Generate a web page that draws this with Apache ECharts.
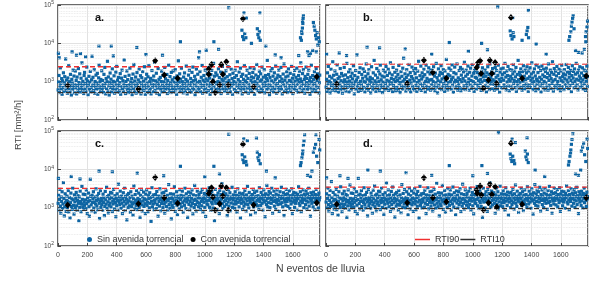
<!DOCTYPE html>
<html>
<head>
<meta charset="utf-8">
<script src="https://cdn.jsdelivr.net/npm/echarts@6/dist/echarts.min.js"></script>
<style>
html,body{margin:0;padding:0;background:#fff;}
#chart{width:589px;height:281px;}
</style>
</head>
<body>
<div id="chart"></div>
<script>
// RTI por evento de lluvia (4 paneles a-d)

// eje x: numero de evento (se muestrea uno de cada PASO eventos)
var PASO = 3;
var X_MAX = 1785;
var PANELES = ['a.', 'b.', 'c.', 'd.'];

// umbrales por panel
var RTI90 = [2450, 2870, 3170, 3450];
var RTI10 = [520, 670, 850, 940];

// eventos sin avenida torrencial (bulk), evento = 1 + k*PASO
var SIN_A = [
610,980,1450,520,760,2300,880,640,1200,470,1050,700,1700,560,930,1350,820,3900,590,1100,
720,500,1250,860,2600,660,1000,540,1550,780,450,1150,920,630,2000,740,1400,510,850,1900,
690,1080,480,1320,790,580,2200,950,670,1600,530,870,1230,710,3100,600,1020,820,490,1450,
1750,650,900,560,1180,2400,740,1040,460,830,1380,620,960,1850,540,700,1120,4600,780,1300,
590,860,2050,500,1010,730,1480,640,920,1650,470,810,1260,2700,680,990,550,1140,760,1920,
620,1070,830,520,1550,720,2350,890,480,1210,660,1000,3400,570,1330,780,450,940,1680,700,
1160,540,880,2150,640,1020,760,1420,500,970,610,1780,850,2500,690,1090,530,1290,800,580,
940,1620,470,740,1240,2000,660,1060,560,870,3700,720,1370,490,1010,790,1900,610,1130,680,
520,1470,830,2250,600,980,740,1200,460,910,1580,670,2800,560,1040,820,1320,500,750,1720,
880,630,1110,540,2100,700,960,1430,480,860,1270,610,1830,750,1030,590,2450,810,470,1180,
690,1560,920,520,1340,760,2600,580,1000,650,1220,480,870,1950,720,1090,550,1400,840,3200,
600,1050,770,1660,500,940,680,2200,860,1150,460,730,1290,620,1010,1880,540,820,1460,700,
990,570,2350,750,1190,640,880,1540,490,1070,710,2700,820,600,1360,930,520,1750,780,1120,
660,1900,540,970,1260,730,2050,610,890,470,1410,800,1080,3500,680,950,1600,560,1170,740,
2250,620,1000,840,510,1320,700,1690,910,580,1140,2550,760,480,1030,650,1480,870,1990,590,
800,1210,530,960,1750,690,2400,1060,620,860,1380,460,1120,770,2100,570,940,1560,710,4200,
640,1020,1840,550,880,1300,720,2650,500,1090,790,1450,610,980,2000,680,1180,530,850,1620,
1060,590,2300,760,1240,470,900,1530,660,1970,820,560,1110,3000,730,1390,520,950,1700,640,
870,1480,540,1010,2150,700,1280,600,930,1810,490,780,1150,2500,650,1040,840,1600,570,1230,
720,1920,610,970,1350,500,2450,810,1080,680,1510,550,900,2100,740,1200,470,1660,860,1010,
630,1290,2000,580,920,1440,760,3300,520,1130,690,1780,830,1000,2250,600,1370,720,480,1560,
890,1150,640,2600,770,1050,540,1420,950,1990,680,1210,500,860,1640,730,2300,610,1080,1330,
560,940,1730,700,1260,2150,470,1000,820,1490,650,2800,910,1190,580,1350,760,1870,530,1030,
1600,670,1110,2400,590,880,1310,740,2050,510,970,1450,800,1200,620,3600,1060,690,1540,850,
460,1280,780,1920,600,1050,2200,720,1390,540,930,1700,650,1140,2550,810,500,1250,890,1480,
700,2000,580,1020,1360,760,2350,640,1170,480,960,1580,830,2900,560,1090,740,1330,610,1820,
920,520,1400,2150,680,1080,790,1650,570,1000,2500,720,1230,490,880,1510,640,1960,1040,760,
1300,600,2250,850,1120,530,1450,950,1880,690,1180,3100,770,1010,580,1620,860,2050,640,1140,
500,1370,780,2400,940,1210,620,1550,730,2000,870,1060,470,1290,680,2700,990,560,1440,820,
1150,640,1820,900,1340,580,2200,760,1080,1600,700,1250,510,940,1480
];
var SIN_B = [
720,1150,560,1700,880,2500,640,1030,1380,510,940,2100,780,1250,600,3300,860,1470,690,1090,
1900,580,990,760,1560,2750,670,1200,530,910,1330,820,2200,620,1060,1640,740,500,1420,960,
650,2350,1120,790,1500,570,980,3000,710,1270,880,1800,540,1040,2050,760,1360,610,920,1660,
1180,700,2600,850,480,1440,990,1950,630,1110,5000,760,1300,560,900,1740,680,2300,1020,590,
830,1540,640,1230,2150,720,1000,1850,540,950,1380,2900,670,1160,800,1610,600,2050,870,1080,
1300,510,960,2450,740,1190,620,1700,880,3600,690,1050,1480,560,930,2200,780,1260,640,1900,
1010,580,1580,2700,820,1120,700,1400,520,970,2000,760,1330,610,1800,900,2500,660,1090,1450,
740,2100,590,1020,1680,850,3100,630,1210,930,1500,550,2350,790,1140,690,1760,1000,580,1310,
2000,710,1070,1550,600,2650,880,1240,520,960,1830,770,1380,640,2250,1030,4100,730,1150,1600,
860,570,1280,2050,690,1000,1490,790,2800,620,1100,1720,540,920,1360,2400,750,1190,660,1950,
1040,610,1620,2200,800,1260,560,950,1880,720,3400,1080,640,1430,870,2550,590,1170,1700,780,
1350,680,2100,910,1520,540,1020,2700,760,1220,630,1810,980,2300,700,1110,1590,600,2000,840,
1140,1900,650,1010,2450,770,1390,580,1680,930,3000,720,1270,510,1060,2150,820,1470,670,1760,
990,2600,620,1180,1620,740,2050,890,1330,560,1900,1050,690,3800,800,1240,610,1550,940,2250,
710,1420,1000,2000,640,1150,2750,820,1300,530,1720,960,2400,680,1090,1600,760,2900,1020,600,
1260,860,1950,700,1130,2350,580,1480,990,2100,650,1210,1800,780,3200,1040,620,1390,2000,880,
730,1570,2550,950,1180,600,1760,830,2250,1070,670,1400,2800,760,1000,1660,560,1950,900,1300,
2100,640,1230,1720,820,2650,1060,700,1490,3500,900,1150,590,1850,980,2300,740,1340,1600,680,
1080,2000,780,1380,540,1700,960,2450,720,1190,1550,620,2900,870,1270,1010,1820,660,2200,1120,
850,1640,600,1040,2350,750,1300,1950,920,640,1460,2700,800,1160,530,1780,1010,2150,700,1240,
1550,690,2250,1090,830,1700,3000,740,1320,610,1900,980,1450,2500,770,1150,580,2050,1030,1380,
760,2000,1200,640,1600,2800,890,1070,1880,700,1330,2350,560,1010,1540,820,3600,1120,680,1750,
940,1450,2150,720,1250,600,1820,1030,2600,790,1390,650,2000,1130,870,1680,2450,740,1220,560,
1900,830,1340,2300,700,1090,1590,3100,910,1240,620,1770,1000,2150,760,1410,580,2700,1170,850,
1050,1720,640,2400,980,1300,770,1950,540,1160,2550,880,1500,690,2100,1020,1350,610,1840,920,
2250,730,1280,1650,600,2900,1080,810,1450,2000,670,1200,1750,900,3300,1040,570,1560,2200,780,
1130,1880,700,1410,2500,860,1010,650,1640,2100,790,1260,580,1900,1060,2700,740,1350,980,1600,
620,2050,1190,850,1500,2800,720,1100,1780,930,2350,660,1300,1620,800,1970,1070,550,1440,2600,
900,1240,1850,690,2150,1020,1570,760,3000,1160,840,1700,610,2000,1090,1400,2450,720,1230,960,
1680,780,2300,1110,640,1450,2000,880,1290,590,1900,1030,2550,750,1360
];
var SIN_C = [
1300,2100,860,1650,3000,1100,720,1900,1450,2600,950,1250,4500,1750,610,1050,2300,1380,800,1550,
2000,1000,1480,2800,770,1200,1850,540,1350,2400,1080,1700,900,3200,1600,1150,680,2150,1420,980,
1750,2500,1120,850,1550,2050,1300,460,1900,1020,2700,1450,780,1250,3600,1650,1050,2250,900,1380,
1150,2200,1600,940,2900,1280,700,1800,1440,2400,1060,600,1520,5500,1950,1180,830,2100,1360,1700,
2600,980,1400,1900,750,1250,3100,1550,1100,2000,880,1650,2350,1300,520,1450,2800,1020,1750,1200,
1500,850,2250,1350,1800,620,1080,2650,1600,1240,3400,960,1950,1420,730,2100,1150,1700,1320,2500,
1050,1850,2400,790,1480,1250,3000,1650,920,2050,1360,580,1750,1130,2300,1550,860,4100,1400,1900,
1200,2700,1580,960,2000,1300,700,1720,2450,1100,1450,3200,840,1950,1250,1650,480,2150,1380,1000,
2350,1520,1120,1850,760,2600,1400,1060,2000,1260,640,1700,3700,1350,930,2200,1580,1150,2800,1450,
890,1750,1300,2400,1020,1620,560,2100,1420,3000,1180,820,1900,1500,2550,1080,1700,1270,700,2250,
1600,2900,1150,1380,780,2050,1720,990,2450,1300,1850,440,1480,3300,1050,1950,1250,2150,880,1560,
1340,2200,1680,940,2650,1200,1780,600,2000,1450,1100,3100,1620,830,1900,1280,2400,1500,1000,1800,
2500,1250,720,1950,1400,2800,1080,1650,2100,860,1500,4000,1200,1750,960,2300,1380,510,1850,1150,
1700,1020,2250,1480,3500,1300,800,1900,1560,2600,1160,660,2000,1420,1780,920,2950,1250,1620,2100,
1050,1880,2700,1350,750,2000,1500,1150,3200,1680,940,2300,1400,1820,560,1600,2550,1220,1950,870,
1450,2400,1100,1750,2900,1280,690,2150,1550,1000,3800,1650,1200,2050,820,1500,2700,1350,1850,1060,
2200,1300,1780,900,2500,1450,1120,3000,1650,760,1900,1380,2350,1020,1700,590,2050,1500,1250,2800,
1180,1950,1550,3300,1020,1720,2250,850,1400,2650,1250,1850,980,2100,1600,460,1480,3000,1300,1750,
2050,880,1620,2400,1350,1900,700,2800,1500,1150,2200,1700,4200,1280,940,1850,2550,1450,1080,2000,
1550,2300,1200,1750,620,2000,1400,2950,1100,1650,2450,830,1900,1320,1750,3400,1020,1580,2150,1250,
1800,960,2600,1480,1250,2100,760,1700,3100,1380,1950,1050,2400,1560,540,1850,1300,2250,1650,900,
2350,1400,1100,1950,2800,1250,1700,820,2150,1500,3600,1200,1850,980,2500,1620,1380,650,2000,1750,
1300,2200,1600,3000,1050,1800,2450,1400,740,1950,1250,2700,1550,1120,2050,1680,900,3300,1450,1900,
1150,2500,1750,1300,2100,860,1600,2900,1400,1950,580,2300,1500,1200,3800,1720,1050,2150,1350,2650,
1850,1000,2400,1600,1300,3200,1750,720,2050,1450,2700,1100,1900,1550,900,2250,1380,2900,1650,1200,
2100,1500,800,1950,2600,1250,1700,3400,1350,2000,1050,1800,2450,620,1600,1400,2200,1150,3000,1750,
1450,2300,1080,1900,1650,2750,950,2050,1500,1250,3100,1800,700,2150,1400,2500,1600,1020,1950,1300,
2400,1550,1850,860,2200,1700,3500,1300,1950,1150,2600,1480,780,2050,1750,1350,2900,1600,1000,2250,
1650,2000,1200,2750,1500,920,2300,1850,1400,3200,1100,1950,1700,600,2450,1550,1300,2100,1800,1050,
2550,1400,1900,880,2200,1650,3000,1250,1750,2050,1450,980,2400,1600,1850
];
var SIN_D = [
1400,2300,980,1750,3200,1200,820,2050,1550,2800,1080,1350,4800,1850,700,1150,2500,1500,920,1650,
2150,1100,1600,3000,880,1300,2000,640,1450,2600,1180,1800,1000,3500,1700,1250,780,2300,1520,1060,
1850,2700,1220,960,1650,2200,1400,560,2050,1120,2900,1550,870,1350,3900,1750,1150,2400,1000,1480,
1250,2350,1700,1040,3100,1380,800,1950,1550,2600,1160,690,1620,5800,2100,1280,930,2250,1460,1800,
2800,1080,1500,2050,850,1350,3300,1650,1200,2150,980,1750,2500,1400,610,1550,3000,1120,1850,1300,
1600,950,2400,1450,1950,720,1180,2850,1700,1340,3700,1060,2100,1520,830,2250,1250,1800,1420,2700,
1150,2000,2600,890,1580,1350,3200,1750,1020,2200,1460,670,1850,1230,2450,1650,960,4400,1500,2050,
1300,2900,1680,1060,2150,1400,800,1820,2650,1200,1550,3450,940,2100,1350,1750,570,2300,1480,1100,
2500,1620,1220,2000,860,2800,1500,1160,2150,1360,740,1800,4000,1450,1030,2350,1680,1250,3000,1550,
990,1850,1400,2600,1120,1720,660,2250,1520,3200,1280,920,2050,1600,2750,1180,1800,1370,800,2400,
1700,3100,1250,1480,880,2200,1820,1090,2650,1400,2000,540,1580,3600,1150,2100,1350,2300,980,1660,
1440,2350,1780,1040,2850,1300,1880,700,2150,1550,1200,3300,1720,930,2050,1380,2600,1600,1100,1900,
2700,1350,820,2100,1500,3000,1180,1750,2250,960,1600,4300,1300,1850,1060,2450,1480,610,2000,1250,
1800,1120,2400,1580,3800,1400,900,2050,1660,2800,1260,760,2150,1520,1880,1020,3150,1350,1720,2250,
1150,2000,2900,1450,850,2150,1600,1250,3450,1780,1040,2450,1500,1920,660,1700,2750,1320,2100,970,
1550,2600,1200,1850,3100,1380,790,2300,1650,1100,4100,1750,1300,2200,920,1600,2900,1450,1950,1160,
2350,1400,1880,1000,2700,1550,1220,3200,1750,860,2050,1480,2500,1120,1800,690,2200,1600,1350,3000,
1280,2100,1650,3550,1120,1820,2400,950,1500,2850,1350,1950,1080,2250,1700,560,1580,3200,1400,1850,
2200,980,1720,2600,1450,2000,800,3000,1600,1250,2350,1800,4500,1380,1040,1950,2750,1550,1180,2150,
1650,2450,1300,1850,720,2150,1500,3150,1200,1750,2600,930,2000,1420,1850,3650,1120,1680,2300,1350,
1900,1060,2800,1580,1350,2250,860,1800,3300,1480,2100,1150,2550,1660,640,1950,1400,2400,1750,1000,
2500,1500,1200,2100,3000,1350,1800,920,2300,1600,3900,1300,1950,1080,2700,1720,1480,750,2150,1850,
1400,2350,1700,3200,1150,1900,2600,1500,840,2100,1350,2900,1650,1220,2200,1780,1000,3500,1550,2000,
1250,2700,1850,1400,2250,960,1700,3100,1500,2050,680,2450,1600,1300,4000,1820,1150,2300,1450,2850,
1950,1100,2600,1700,1400,3400,1850,820,2200,1550,2900,1200,2000,1650,1000,2400,1480,3100,1750,1300,
2250,1600,900,2050,2800,1350,1800,3600,1450,2150,1150,1900,2600,720,1700,1500,2350,1250,3200,1850,
1550,2450,1180,2000,1750,2950,1050,2200,1600,1350,3300,1900,800,2300,1500,2700,1700,1120,2050,1400,
2600,1650,1950,960,2350,1800,3700,1400,2050,1250,2800,1580,880,2200,1850,1450,3100,1700,1100,2400,
1750,2150,1300,2950,1600,1020,2450,1950,1500,3400,1200,2050,1800,700,2600,1650,1400,2250,1900,1150,
2700,1500,2000,980,2350,1750,3200,1350,1850,2200,1550,1080,2550,1700,1950
];

// eventos sin avenida con RTI alto: [evento, RTI]
var ALTOS_A = [[3,5500],[8,4200],[96,6000],[126,4900],[153,5400],[188,4460],[279,8400],[363,8400],[377,4700],[537,7800],[599,5100],[712,4900],[834,11000],[964,6000],[1010,6600],[1062,11000],[1094,7000],[1163,85000],
[1253,22000],[1258,15000],[1265,12500],[1272,18000],[1280,14000],[1267,63000],[1283,46000],[1318,10000],[1358,24000],[1362,17000],[1368,14000],[1372,20000],[1378,12000],[1375,63000],[1416,8400],[1480,5000],[1520,4200],
[1652,14000],[1658,12000],[1662,18000],[1665,25000],[1668,33000],[1670,45000],[1672,52000],[1666,38000],[1660,20000],[1640,4800],[1700,6000],[1720,5500],[1740,35000],[1745,28000],[1750,22000],[1755,16000],[1760,13000],[1765,19000],[1770,9000],[1775,14000],[1780,11000],[1760,6000],[1735,6500],[1710,4800]];
var ALTOS_B = [[4,5200],[90,5600],[140,4800],[280,8000],[365,7600],[540,7200],[720,5200],[840,10500],[970,6200],[1060,10000],[1100,6800],[1170,89000],
[1255,21000],[1260,16000],[1268,13000],[1275,19000],[1280,15000],[1272,47000],[1365,17000],[1370,21000],[1375,26000],[1380,14000],[1379,72000],[1336,12000],[1432,9500],[1500,5200],
[1655,12000],[1660,15000],[1668,20000],[1672,28000],[1676,36000],[1680,45000],[1684,52000],[1690,24000],[1700,6500],[1720,5800],[1760,7000],[1768,15000],[1772,20000],[1778,27000],[1782,38000],[1770,11000],[1745,5600]];
var ALTOS_C = [[3,5800],[90,6500],[150,5600],[280,9000],[370,8600],[540,8000],[720,6800],[834,12000],[1000,6400],[1062,12000],[1100,7500],[1163,82000],
[1255,24000],[1260,18000],[1266,15000],[1272,21000],[1280,16000],[1285,13000],[1265,63000],[1290,56000],[1352,65000],[1358,28000],[1362,20000],[1368,17000],[1372,24000],[1378,14000],[1420,9000],[1480,6000],
[1652,12500],[1656,15000],[1662,20000],[1668,30000],[1672,42000],[1676,55000],[1680,80000],[1666,25000],[1700,7000],[1720,6500],[1740,28000],[1748,36000],[1755,45000],[1762,22000],[1770,15000],[1778,60000],[1783,32000],[1757,80000],[1730,9000]];
var ALTOS_D = [[4,6000],[95,6800],[150,5800],[285,9500],[370,9000],[545,8200],[720,7000],[840,12500],[1000,6800],[1062,12500],[1100,7800],[1175,90000],
[1255,25000],[1260,19000],[1266,16000],[1272,22000],[1280,17000],[1285,14000],[1268,62000],[1290,50000],[1370,66000],[1358,30000],[1362,21000],[1368,18000],[1372,25000],[1378,15000],[1425,9500],[1490,6500],
[1652,13000],[1656,16000],[1662,22000],[1668,32000],[1672,45000],[1676,60000],[1682,85000],[1666,27000],[1700,7500],[1720,7000],[1740,30000],[1748,38000],[1755,48000],[1762,24000],[1770,16000],[1778,62000],[1783,35000],[1735,9500]];

// eventos con avenida torrencial: [evento, RTI]
var CON_A = [[66,790],[548,640],[662,3500],[724,1490],[815,1220],[1027,2130],[1027,1550],[1046,2820],[1055,1000],[1071,525],[1101,820],[1112,2820],[1123,1550],[1147,3300],[1160,820],[1260,44000],[1333,740],[1763,1350]];
var CON_B = [[73,870],[553,900],[667,3640],[728,1740],[820,1220],[1027,2350],[1036,3100],[1050,3500],[1057,1640],[1073,670],[1107,1100],[1116,3640],[1130,1640],[1152,3170],[1162,900],[1260,47000],[1336,1220],[1773,1400]];
var CON_C = [[66,1170],[548,1270],[662,6100],[724,1820],[815,1300],[1027,2330],[1036,2900],[1046,3330],[1055,1890],[1071,850],[1101,1270],[1112,3670],[1123,2010],[1147,3330],[1160,850],[1260,45000],[1333,1170],[1763,1350]];
var CON_D = [[73,1220],[553,1350],[667,6000],[728,1820],[820,1430],[1027,2870],[1030,2370],[1050,3670],[1058,2130],[1073,870],[1107,1350],[1116,4060],[1130,2220],[1152,3530],[1164,1040],[1260,48000],[1336,1220],[1773,1820]];

var SIN = [SIN_A, SIN_B, SIN_C, SIN_D];
var ALTOS = [ALTOS_A, ALTOS_B, ALTOS_C, ALTOS_D];
var CON = [CON_A, CON_B, CON_C, CON_D];

var MINOR = [200,300,400,500,600,700,800,900,2000,3000,4000,5000,6000,7000,8000,9000,20000,30000,40000,50000,60000,70000,80000,90000];

var FONT = 'Liberation Sans, Arial, sans-serif';
var AZUL = '#0e65a3';

var GRIDS = [
	{left:58, top:5, width:262, height:115},
	{left:326, top:5, width:262, height:115},
	{left:58, top:131, width:262, height:115},
	{left:326, top:131, width:262, height:115}
];

var grids = [], xAxes = [], yAxes = [], series = [], graphics = [];

for (var i = 0; i < 4; i++) {
	var g = GRIDS[i];
	grids.push({left:g.left, top:g.top, width:g.width, height:g.height, show:true,
		borderColor:'#3a3a3a', borderWidth:1.5, backgroundColor:'#fff'});
	xAxes.push({
		gridIndex:i, type:'value', min:0, max:X_MAX, interval:200,
		axisLine:{show:false},
		axisTick:{show:true, inside:true, length:3, lineStyle:{color:'#444'}},
		axisLabel:{show:i >= 2, fontSize:7, color:'#444', margin:6, fontFamily:FONT, showMaxLabel:false,
			formatter:function(v){ return String(v); }},
		splitLine:{show:true, lineStyle:{color:'#e2e2e2', width:1}}
	});
	yAxes.push({
		gridIndex:i, type:'log', logBase:10, min:100, max:100000,
		axisLine:{show:false},
		axisTick:{show:true, inside:true, length:3, lineStyle:{color:'#444'}},
		axisLabel:{show:i % 2 === 0, margin:4, color:'#444', fontFamily:FONT,
			formatter:function(v){ return '{b|10}{s|' + Math.round(Math.log(v) / Math.LN10) + '}'; },
			rich:{b:{fontSize:6.5, color:'#444', lineHeight:9, fontFamily:FONT},
				s:{fontSize:5, color:'#444', lineHeight:9, verticalAlign:'top', fontFamily:FONT}}},
		splitLine:{show:true, lineStyle:{color:'#e2e2e2', width:1}}
	});

	// rejilla menor
	series.push({
		type:'line', xAxisIndex:i, yAxisIndex:i, data:[[0,100]], symbol:'none', silent:true, z:1,
		lineStyle:{width:0},
		markLine:{silent:true, symbol:'none', label:{show:false},
			lineStyle:{type:'dotted', color:'#e4e4e4', width:0.8},
			data:MINOR.map(function(v){ return {yAxis:v}; })}
	});

	var puntos = SIN[i].map(function(v, k){ return [1 + k * PASO, v]; }).concat(ALTOS[i]);
	series.push({
		name:'Sin avenida torrencial', type:'scatter', xAxisIndex:i, yAxisIndex:i,
		symbol:'rect', symbolSize:3.2, itemStyle:{color:AZUL, opacity:1}, data:puntos, z:2
	});
	series.push({
		name:'RTI90', type:'line', xAxisIndex:i, yAxisIndex:i, symbol:'none', z:3,
		lineStyle:{color:'#f03030', width:1.3, type:[5,3]}, itemStyle:{color:'#f03030'},
		data:[[0, RTI90[i]], [X_MAX, RTI90[i]]]
	});
	series.push({
		name:'RTI10', type:'line', xAxisIndex:i, yAxisIndex:i, symbol:'none', z:3,
		lineStyle:{color:'#303030', width:1.2, type:[5,3]}, itemStyle:{color:'#303030'},
		data:[[0, RTI10[i]], [X_MAX, RTI10[i]]]
	});
	series.push({
		name:'Con avenida torrencial', type:'scatter', xAxisIndex:i, yAxisIndex:i,
		symbol:'diamond', symbolSize:[6,7], itemStyle:{color:'#000', opacity:1}, data:CON[i], z:4
	});

	graphics.push({type:'text', left:g.left + 37, top:g.top + 7, z:10,
		style:{text:PANELES[i], font:'bold 11px ' + FONT, fill:'#111'}});
}

graphics.push({type:'text', left:276, top:264,
	style:{text:'N eventos de lluvia', font:'10.5px ' + FONT, fill:'#444'}});
graphics.push({type:'text', x:18, y:125, rotation:Math.PI / 2,
	style:{text:'RTI [mm\u00B2/h]', font:'9.5px ' + FONT, fill:'#444', align:'center', verticalAlign:'middle'}});

var myChart = echarts.init(document.getElementById('chart'), null, {renderer:'canvas'});
myChart.setOption({
	animation:false,
	backgroundColor:'#fff',
	grid:grids,
	xAxis:xAxes,
	yAxis:yAxes,
	series:series,
	graphic:graphics,
	legend:[
		{left:82, top:230, itemGap:7, itemWidth:5, itemHeight:5, icon:'circle',
			textStyle:{fontSize:9, color:'#333', fontFamily:FONT},
			data:['Sin avenida torrencial', 'Con avenida torrencial'], selectedMode:false},
		{left:410, top:230, itemGap:1, itemWidth:15, itemHeight:1.5, icon:'rect',
			textStyle:{fontSize:9, color:'#333', fontFamily:FONT},
			data:['RTI90', 'RTI10'], selectedMode:false}
	]
});
</script>
</body>
</html>
